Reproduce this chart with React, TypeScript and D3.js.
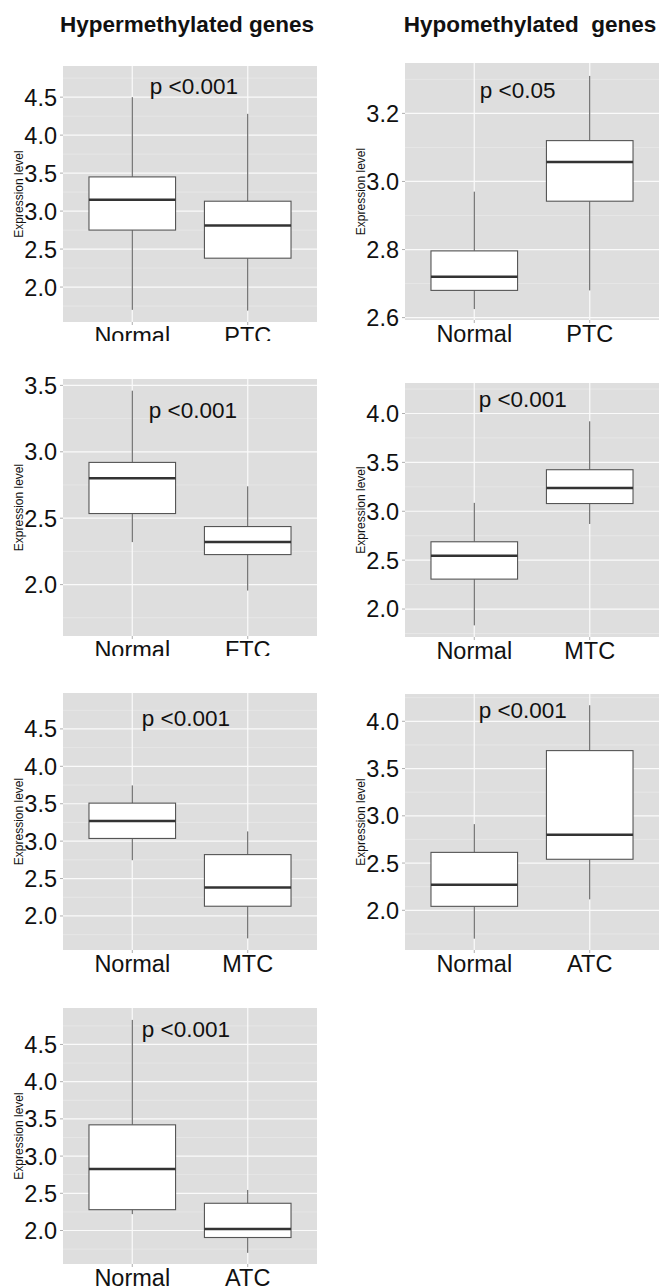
import React from 'react'
import * as d3 from 'd3'

const width = 664
const height = 1288
const font = '"Liberation Sans", Arial, sans-serif'

// box stats: [min, q1, median, q3, max]
const hyperGroups = ['PTC', 'FTC', 'MTC', 'ATC']
const hyperNormal = [
  [1.7, 2.75, 3.15, 3.45, 4.5],
  [2.32, 2.535, 2.8, 2.92, 3.46],
  [2.745, 3.036, 3.27, 3.508, 3.745],
  [2.22, 2.28, 2.825, 3.42, 4.83],
]
const hyperTumor = [
  [1.69, 2.38, 2.81, 3.13, 4.28],
  [1.955, 2.226, 2.32, 2.437, 2.74],
  [1.7, 2.13, 2.38, 2.82, 3.13],
  [1.7, 1.906, 2.02, 2.366, 2.545],
]
const hyperP = ['p <0.001', 'p <0.001', 'p <0.001', 'p <0.001']
const hyperPX = [1.534, 1.525, 1.465, 1.465]
const hyperPY = [4.54, 3.256, 4.535, 4.594]
const hyperDomain = [
  [1.54, 4.91],
  [1.613, 3.548],
  [1.545, 4.98],
  [1.55, 4.99],
]
const hyperTicks = [
  [2, 2.5, 3, 3.5, 4, 4.5],
  [2, 2.5, 3, 3.5],
  [2, 2.5, 3, 3.5, 4, 4.5],
  [2, 2.5, 3, 3.5, 4, 4.5],
]

const hypoGroups = ['PTC', 'MTC', 'ATC']
const hypoNormal = [
  [2.625, 2.68, 2.72, 2.796, 2.97],
  [1.833, 2.306, 2.545, 2.688, 3.086],
  [1.7, 2.042, 2.27, 2.613, 2.912],
]
const hypoTumor = [
  [2.68, 2.942, 3.057, 3.12, 3.31],
  [2.87, 3.079, 3.239, 3.425, 3.92],
  [2.116, 2.54, 2.8, 3.69, 4.17],
]
const hypoP = ['p <0.05', 'p <0.001', 'p <0.001']
const hypoPX = [1.376, 1.42, 1.42]
const hypoPY = [3.246, 4.064, 4.038]
const hypoDomain = [
  [2.593, 3.348],
  [1.714, 4.312],
  [1.58, 4.289],
]
const hypoTicks = [
  [2.6, 2.8, 3.0, 3.2],
  [2, 2.5, 3, 3.5, 4],
  [2, 2.5, 3, 3.5, 4],
]

// layout
const plotW = 254
const leftX = 63
const rightX = 405
const leftRows = [[66, 322], [379, 636], [693, 950], [1008, 1264]]
const rightRows = [[63, 320], [383, 637], [694, 950]]
const leftClip = [341, 656, height, height]

function Panel({ id, x0, top, bottom, clipY, groups, stats, domain, ticks, pText, pX, pY }) {
  const x = d3.scaleLinear().domain([0.4, 2.6]).range([x0, x0 + plotW])
  const y = d3.scaleLinear().domain(domain).range([bottom, top])
  const step = ticks[1] - ticks[0]
  const minors = d3
    .range(-4, 20)
    .map(k => ticks[0] - step / 2 + k * step)
    .filter(v => v > domain[0] && v < domain[1])
  const boxW = x(1.375) - x(1)

  return (
    <g clipPath={`url(#clip-${id})`}>
      <defs>
        <clipPath id={`clip-${id}`}>
          <rect x={0} y={top - 40} width={width} height={clipY - top + 40} />
        </clipPath>
      </defs>
      <rect x={x0} y={top} width={plotW} height={bottom - top} fill="#dedede" />
      {minors.map((v, i) => (
        <line key={'mi' + i} x1={x0} x2={x0 + plotW} y1={y(v)} y2={y(v)} stroke="#ececec" strokeWidth={0.6} />
      ))}
      {ticks.map((v, i) => (
        <line key={'ma' + i} x1={x0} x2={x0 + plotW} y1={y(v)} y2={y(v)} stroke="#fafafa" strokeWidth={1.2} />
      ))}
      {groups.map((g, i) => (
        <line key={'vg' + i} x1={x(i + 1)} x2={x(i + 1)} y1={top} y2={bottom} stroke="#fafafa" strokeWidth={1.2} />
      ))}
      {ticks.map((v, i) => (
        <g key={'t' + i}>
          <line x1={x0 - 3} x2={x0} y1={y(v)} y2={y(v)} stroke="#999" strokeWidth={0.8} />
          <text x={x0 - 6} y={y(v)} dy="0.36em" textAnchor="end" fontSize={23.5} fill="#111">
            {v.toFixed(1)}
          </text>
        </g>
      ))}
      {groups.map((g, i) => (
        <g key={'xl' + i}>
          <line x1={x(i + 1)} x2={x(i + 1)} y1={bottom} y2={bottom + 3} stroke="#999" strokeWidth={0.8} />
          <text x={x(i + 1)} y={bottom + 22} textAnchor="middle" fontSize={23.5} fill="#111">
            {g}
          </text>
        </g>
      ))}
      {stats.map((s, i) => {
        const cx = x(i + 1)
        return (
          <g key={'b' + i}>
            <line x1={cx} x2={cx} y1={y(s[4])} y2={y(s[3])} stroke="#555" strokeWidth={1} />
            <line x1={cx} x2={cx} y1={y(s[1])} y2={y(s[0])} stroke="#555" strokeWidth={1} />
            <rect x={cx - boxW} y={y(s[3])} width={boxW * 2} height={y(s[1]) - y(s[3])} fill="#fff" stroke="#555" strokeWidth={1.1} />
            <line x1={cx - boxW} x2={cx + boxW} y1={y(s[2])} y2={y(s[2])} stroke="#333" strokeWidth={2.5} />
          </g>
        )
      })}
      <text x={x(pX)} y={y(pY)} textAnchor="middle" fontSize={22.5} fill="#111">
        {pText}
      </text>
      <text
        transform={`translate(${x0 - 40},${(top + bottom) / 2}) rotate(-90)`}
        textAnchor="middle"
        fontSize={12}
        fill="#111"
      >
        Expression level
      </text>
    </g>
  )
}

export default function App() {
  return (
    <svg
      width={width}
      height={height}
      style={{ position: 'absolute', left: 0, top: 0, display: 'block', fontFamily: font, background: '#fff' }}
    >
      <rect width={width} height={height} fill="#fff" />
      <text x={187} y={32} textAnchor="middle" fontSize={22.5} fontWeight="bold" fill="#111">
        Hypermethylated genes
      </text>
      <text x={530} y={32} textAnchor="middle" fontSize={22.5} fontWeight="bold" fill="#111" style={{ whiteSpace: 'pre' }}>
        {'Hypomethylated  genes'}
      </text>
      {hyperGroups.map((g, i) => (
        <Panel
          key={'L' + i}
          id={'L' + i}
          x0={leftX}
          top={leftRows[i][0]}
          bottom={leftRows[i][1]}
          clipY={leftClip[i]}
          groups={['Normal', g]}
          stats={[hyperNormal[i], hyperTumor[i]]}
          domain={hyperDomain[i]}
          ticks={hyperTicks[i]}
          pText={hyperP[i]}
          pX={hyperPX[i]}
          pY={hyperPY[i]}
        />
      ))}
      {hypoGroups.map((g, i) => (
        <Panel
          key={'R' + i}
          id={'R' + i}
          x0={rightX}
          top={rightRows[i][0]}
          bottom={rightRows[i][1]}
          clipY={height}
          groups={['Normal', g]}
          stats={[hypoNormal[i], hypoTumor[i]]}
          domain={hypoDomain[i]}
          ticks={hypoTicks[i]}
          pText={hypoP[i]}
          pX={hypoPX[i]}
          pY={hypoPY[i]}
        />
      ))}
    </svg>
  )
}
